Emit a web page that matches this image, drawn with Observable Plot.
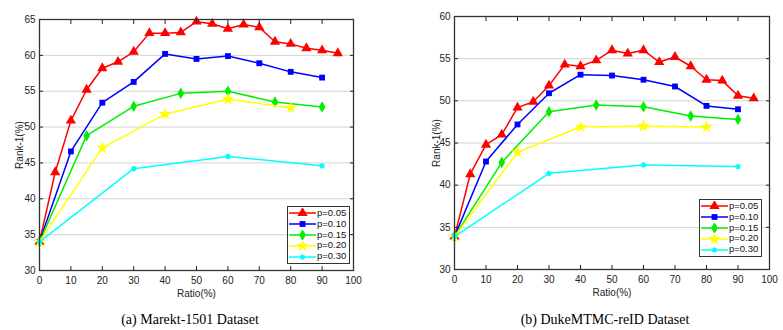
<!DOCTYPE html>
<html><head><meta charset="utf-8">
<script src="https://cdn.jsdelivr.net/npm/d3@7"></script>
<script src="https://cdn.jsdelivr.net/npm/@observablehq/plot@0.6"></script>
<style>
body{margin:0;background:#fff;}
#wrap{position:relative;width:783px;height:330px;overflow:hidden;background:#fff;font-family:"Liberation Sans",Arial,sans-serif;}
.chart{position:absolute;top:0;}
.caption{position:absolute;top:312px;font-family:"Liberation Serif","Times New Roman",serif;font-size:14px;color:#000;white-space:nowrap;transform:translateX(-50%);}
.legend{position:absolute;border:1px solid #333;background:#fff;padding:1px 3px 1px 1px;font-size:9.5px;line-height:10.8px;color:#111;}
.legend div{display:flex;align-items:center;height:10.8px;}
.legend svg{display:block;margin-right:1px;}
</style>
</head><body>
<div id="wrap"></div>
<script>
// ---- data ----
const seriesLabels = ["p=0.05", "p=0.10", "p=0.15", "p=0.20", "p=0.30"];
const seriesColors = ["#ff0000", "#0000ff", "#00ee00", "#ffff00", "#00ffff"];
const seriesSymbols = ["triangle", "square", "diamond", "star", "circle"];

const ratio05 = [0,5,10,15,20,25,30,35,40,45,50,55,60,65,70,75,80,85,90,95];
const ratio10 = [0,10,20,30,40,50,60,70,80,90];
const ratio15 = [0,15,30,45,60,75,90];
const ratio20 = [0,20,40,60,80];
const ratio30 = [0,30,60,90];

const market05 = [34.0,43.7,50.9,55.2,58.2,59.1,60.5,63.1,63.1,63.2,64.7,64.4,63.7,64.3,63.9,61.9,61.6,61.0,60.7,60.3];
const market10 = [34.0,46.6,53.4,56.3,60.2,59.5,59.9,58.9,57.7,56.9];
const market15 = [34.0,48.8,52.9,54.7,55.0,53.5,52.8];
const market20 = [34.0,47.1,51.8,53.9,52.7];
const market30 = [34.0,44.2,45.9,44.6];

const duke05 = [33.9,41.3,44.8,46.0,49.2,49.9,51.8,54.3,54.1,54.8,56.0,55.6,56.0,54.6,55.2,54.1,52.5,52.4,50.6,50.3];
const duke10 = [33.9,42.8,47.2,50.9,53.1,53.0,52.5,51.7,49.4,49.0];
const duke15 = [33.9,42.7,48.7,49.5,49.3,48.2,47.8];
const duke20 = [33.9,43.9,46.9,47.0,46.9];
const duke30 = [33.9,41.4,42.4,42.2];

const xTicks = [0,10,20,30,40,50,60,70,80,90,100];
const marketYTicks = [30,35,40,45,50,55,60,65];
const dukeYTicks = [30,35,40,45,50,55,60];
const captions = ["(a) Marekt-1501 Dataset", "(b) DukeMTMC-reID Dataset"];

const ratios = [ratio05, ratio10, ratio15, ratio20, ratio30];
const symbolR = [3.8, 3.3, 3.5, 4.0, 2.6];

function build(values, yTicks, opts) {
  const marks = [
    Plot.gridY(yTicks.slice(1, -1), {stroke: "#d4d4d4", strokeOpacity: 1, strokeWidth: 1})
  ];
  values.forEach((vals, i) => {
    const rows = ratios[i].map((r, j) => ({ratio: r, rank: vals[j]}));
    marks.push(Plot.line(rows, {x: "ratio", y: "rank", stroke: seriesColors[i], strokeWidth: 1.5}));
    marks.push(Plot.dot(rows, {x: "ratio", y: "rank", fill: seriesColors[i], symbol: () => seriesSymbols[i], r: symbolR[i], stroke: "none"}));
  });
  marks.push(
    Plot.axisX(xTicks, {anchor: "bottom", tickSize: 0, tickPadding: 6, label: "Ratio(%)", labelAnchor: "center", labelArrow: "none", labelOffset: opts.xLabelOffset}),
    Plot.axisX(xTicks.slice(1, -1), {anchor: "bottom", text: null, tickSize: -4, label: null}),
    Plot.axisX(xTicks.slice(1, -1), {anchor: "top", text: null, tickSize: -4, label: null}),
    Plot.axisY(yTicks, {anchor: "left", tickSize: 0, tickPadding: 4, label: "Rank-1(%)", labelAnchor: "center", labelArrow: "none", labelOffset: opts.yLabelOffset}),
    Plot.axisY(yTicks.slice(1, -1), {anchor: "left", text: null, tickSize: -4, label: null}),
    Plot.axisY(yTicks.slice(1, -1), {anchor: "right", text: null, tickSize: -4, label: null}),
    Plot.frame({stroke: "#333", strokeWidth: 1.3})
  );
  return Plot.plot({
    width: opts.width, height: opts.height,
    marginLeft: opts.ml, marginRight: opts.mr, marginTop: opts.mt, marginBottom: opts.mb,
    x: {domain: [0, 100]},
    y: {domain: [yTicks[0], yTicks[yTicks.length - 1]]},
    symbol: {type: "identity"},
    style: {fontFamily: "Liberation Sans, Arial, sans-serif", fontSize: "10px", color: "#222", background: "white", overflow: "visible"},
    marks
  });
}

function legend(left, top) {
  const div = document.createElement("div");
  div.className = "legend";
  div.style.left = left + "px";
  div.style.top = top + "px";
  const typeMap = {triangle: d3.symbolTriangle, square: d3.symbolSquare, diamond: d3.symbolDiamond, star: d3.symbolStar, circle: d3.symbolCircle};
  seriesLabels.forEach((lab, i) => {
    const row = document.createElement("div");
    const svg = d3.create("svg").attr("width", 27).attr("height", 10);
    svg.append("line").attr("x1", 0).attr("x2", 27).attr("y1", 5).attr("y2", 5).attr("stroke", seriesColors[i]).attr("stroke-width", 1.5);
    svg.append("path").attr("transform", "translate(13.5,5)")
      .attr("d", d3.symbol().type(typeMap[seriesSymbols[i]]).size(Math.PI * symbolR[i] * symbolR[i])())
      .attr("fill", seriesColors[i]);
    row.appendChild(svg.node());
    const t = document.createElement("span");
    t.textContent = lab;
    row.appendChild(t);
    div.appendChild(row);
  });
  return div;
}

const wrap = document.getElementById("wrap");
const left = build([market05, market10, market15, market20, market30], marketYTicks,
  {width: 370, height: 305, ml: 39, mr: 17, mt: 19, mb: 35, xLabelOffset: 26, yLabelOffset: 24});
left.classList.add("chart"); left.style.left = "0px";
wrap.appendChild(left);

const right = build([duke05, duke10, duke15, duke20, duke30], dukeYTicks,
  {width: 383, height: 305, ml: 54, mr: 14, mt: 16, mb: 36, xLabelOffset: 26, yLabelOffset: 22});
right.classList.add("chart"); right.style.left = "400px";
wrap.appendChild(right);

wrap.appendChild(legend(287, 206));
wrap.appendChild(legend(699, 199));

[[captions[0], 190], [captions[1], 605]].forEach(([txt, cx]) => {
  const c = document.createElement("div");
  c.className = "caption";
  c.style.left = cx + "px";
  c.textContent = txt;
  wrap.appendChild(c);
});
</script>
</body></html>
